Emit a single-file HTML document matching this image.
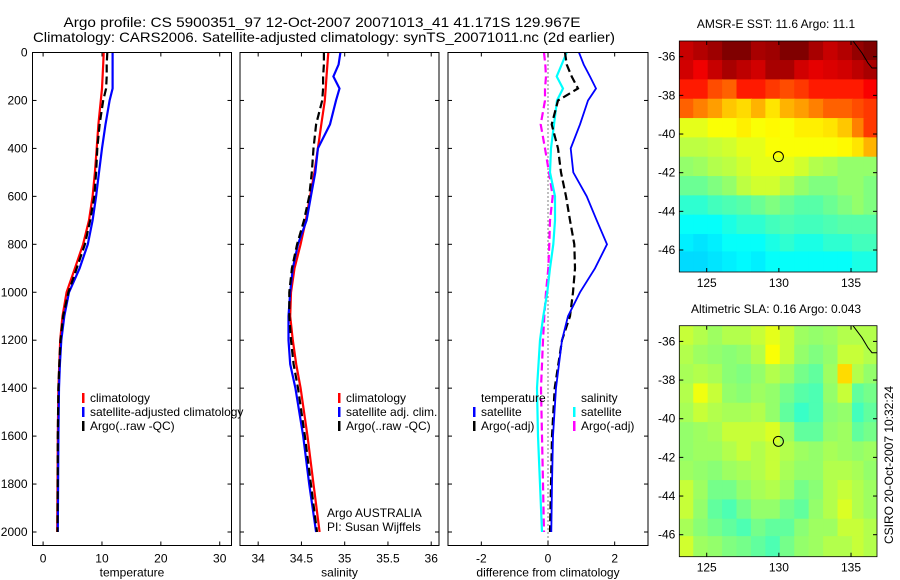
<!DOCTYPE html>
<html><head><meta charset="utf-8"><style>
body{margin:0;background:#fff;}
svg{display:block;font-family:"Liberation Sans",sans-serif;}
</style></head><body>
<svg id="fig" width="900" height="580" viewBox="0 0 900 580">
<text x="322" y="27" font-size="14" textLength="517" lengthAdjust="spacingAndGlyphs" text-anchor="middle">Argo profile: CS 5900351_97 12-Oct-2007 20071013_41 41.171S 129.967E</text>
<text x="324" y="42" font-size="14" textLength="582" lengthAdjust="spacingAndGlyphs" text-anchor="middle">Climatology: CARS2006. Satellite-adjusted climatology: synTS_20071011.nc (2d earlier)</text>
<text x="776" y="28" font-size="12" text-anchor="middle">AMSR-E SST: 11.6 Argo: 11.1</text>
<text x="776" y="313" font-size="12" text-anchor="middle">Altimetric SLA: 0.16 Argo: 0.043</text>
<text transform="translate(893,465) rotate(-90)" font-size="12" text-anchor="middle">CSIRO 20-Oct-2007 10:32:24</text>
</svg>
<script>
// ---- profile data ----
const depthTS = [0,50,100,150,200,300,400,500,600,700,800,900,1000,1100,1200,1300,1400,1600,1800,2000];
const tempClim = [10.3,10.2,10.1,10.0,9.8,9.4,9.1,8.8,8.4,7.8,6.8,5.4,4.0,3.3,2.9,2.75,2.6,2.5,2.45,2.4];
const tempSat  = [11.8,11.8,11.8,11.8,11.3,10.6,10.0,9.5,9.0,8.4,7.6,6.2,4.4,3.6,3.1,2.85,2.7,2.6,2.55,2.5];
const tempArgo = [10.9,10.8,10.8,10.7,10.2,9.6,9.2,9.0,8.7,8.0,7.1,5.7,4.3,3.4,2.95,2.75,2.6,2.5,2.48,2.45];
const salClim  = [34.81,34.80,34.79,34.78,34.77,34.73,34.69,34.65,34.60,34.55,34.49,34.42,34.38,34.37,34.40,34.44,34.49,34.57,34.64,34.71];
const salSat   = [34.95,34.93,34.87,34.94,34.90,34.83,34.69,34.66,34.61,34.56,34.46,34.40,34.37,34.35,34.35,34.37,34.43,34.52,34.59,34.67];
const salArgo  = [34.76,34.76,34.75,34.75,34.74,34.67,34.64,34.62,34.59,34.53,34.45,34.39,34.36,34.36,34.38,34.41,34.46,34.54,34.61,34.68];
const depthD = [0,50,100,150,200,300,400,500,600,700,800,900,1000,1100,1200,1400,1600,1800,2000];
const dTempSat  = [0.93,1.07,1.26,1.44,1.2,0.96,0.68,0.76,1.16,1.46,1.77,1.41,0.96,0.6,0.42,0.24,0.15,0.12,0.1];
const dTempArgo = [0.51,0.56,0.71,0.9,0.3,0.11,0.3,0.39,0.54,0.66,0.79,0.81,0.75,0.66,0.42,0.2,0.12,0.09,0.06];
const dSalSat   = [0.56,0.41,0.26,0.45,0.27,0.18,0.09,0.06,0.21,0.21,0.16,0.06,-0.02,-0.14,-0.24,-0.33,-0.3,-0.24,-0.18];
const dSalArgo  = [-0.12,-0.08,-0.06,-0.09,-0.09,-0.22,-0.09,0.03,0.14,0.06,0.04,0.01,-0.06,-0.11,-0.15,-0.21,-0.18,-0.15,-0.12];
const depthTicks = [0,200,400,600,800,1000,1200,1400,1600,1800,2000];
const tempTicks = [0,10,20,30];
const salTicks = [34,34.5,35,35.5,36];
const salTickLabels = ["34","34.5","35","35.5","36"];
const diffTicks = [-2,0,2];
// ---- map data (jet colormap fraction, rows north->south, cols west->east) ----
const mapLons = [123.6,124.6,125.6,126.6,127.6,128.6,129.6,130.6,131.6,132.6,133.6,134.6,135.6,136.4];
const mapLats = [-35.7,-36.7,-37.7,-38.7,-39.7,-40.7,-41.7,-42.7,-43.7,-44.7,-45.7,-46.6];
const sstGrid = [
[0.93,0.95,0.97,1,1,0.96,0.97,1,1,0.96,0.93,0.95,0.98,1],
[0.92,0.89,0.93,0.96,0.94,0.92,0.96,0.96,0.92,0.9,0.91,0.92,0.94,0.96],
[0.85,0.85,0.8,0.78,0.85,0.85,0.82,0.8,0.82,0.85,0.85,0.85,0.85,0.88],
[0.78,0.75,0.72,0.68,0.66,0.7,0.65,0.7,0.72,0.75,0.78,0.78,0.8,0.82],
[0.6,0.6,0.62,0.62,0.64,0.62,0.63,0.62,0.64,0.64,0.65,0.68,0.75,0.82],
[0.56,0.56,0.57,0.58,0.6,0.6,0.62,0.62,0.62,0.62,0.62,0.63,0.65,0.7],
[0.52,0.53,0.55,0.56,0.58,0.6,0.6,0.6,0.58,0.55,0.54,0.52,0.52,0.52],
[0.48,0.48,0.5,0.52,0.56,0.58,0.58,0.55,0.52,0.5,0.5,0.52,0.52,0.5],
[0.42,0.42,0.44,0.45,0.46,0.48,0.5,0.48,0.46,0.46,0.48,0.5,0.52,0.5],
[0.38,0.38,0.38,0.4,0.42,0.42,0.44,0.45,0.44,0.44,0.45,0.46,0.46,0.46],
[0.36,0.35,0.36,0.38,0.38,0.38,0.4,0.42,0.4,0.4,0.42,0.42,0.44,0.44],
[0.34,0.34,0.35,0.36,0.37,0.36,0.38,0.38,0.38,0.38,0.38,0.38,0.4,0.4]];
const slaGrid = [
[0.57,0.55,0.53,0.55,0.55,0.57,0.6,0.57,0.53,0.52,0.53,0.55,0.55,0.55],
[0.55,0.53,0.52,0.51,0.52,0.55,0.62,0.57,0.52,0.5,0.52,0.57,0.57,0.55],
[0.54,0.55,0.54,0.51,0.5,0.52,0.55,0.53,0.49,0.47,0.53,0.66,0.55,0.52],
[0.55,0.61,0.57,0.52,0.51,0.53,0.52,0.49,0.46,0.45,0.52,0.57,0.47,0.49],
[0.54,0.57,0.55,0.54,0.54,0.55,0.52,0.47,0.43,0.45,0.51,0.52,0.44,0.47],
[0.52,0.53,0.54,0.57,0.57,0.57,0.59,0.53,0.47,0.47,0.52,0.53,0.47,0.49],
[0.52,0.53,0.53,0.55,0.57,0.55,0.57,0.55,0.53,0.52,0.54,0.53,0.52,0.53],
[0.53,0.52,0.51,0.53,0.54,0.55,0.57,0.54,0.52,0.52,0.55,0.55,0.54,0.52],
[0.57,0.53,0.49,0.49,0.52,0.54,0.55,0.53,0.49,0.51,0.55,0.57,0.55,0.53],
[0.57,0.52,0.47,0.45,0.49,0.52,0.52,0.49,0.47,0.52,0.55,0.59,0.55,0.53],
[0.54,0.51,0.49,0.47,0.45,0.49,0.47,0.47,0.51,0.53,0.53,0.57,0.57,0.55],
[0.58,0.53,0.52,0.5,0.49,0.47,0.45,0.49,0.52,0.53,0.55,0.55,0.57,0.55]];
const lonTicks = [125,130,135];
const latTicks = [-36,-38,-40,-42,-44,-46];
const argoLon = 129.967, argoLat = -41.171;

const NS = "http://www.w3.org/2000/svg";
const svg = document.getElementById('fig');
function mk(tag, attrs, parent){const e=document.createElementNS(NS,tag);for(const k in attrs)e.setAttribute(k,attrs[k]);(parent||svg).appendChild(e);return e;}
function lin(d0,d1,r0,r1){return v=>r0+(v-d0)*(r1-r0)/(d1-d0);}

function profilePanel(id, box, xlim, xticks, xlabels, xtitle, showY){
  const g = mk('g',{});
  
  
  const x = lin(xlim[0],xlim[1],box.l,box.r);
  const y = lin(0,2000,52.5,532);
  const cp = mk('clipPath',{id:'clip-'+id},g);
  mk('rect',{x:box.l,y:box.t,width:box.r-box.l,height:box.b-box.t},cp);
  const plot = mk('g',{'clip-path':'url(#clip-'+id+')'},g);
  xticks.forEach((t,i)=>{
    mk('line',{x1:x(t),x2:x(t),y1:box.b,y2:box.b-4,stroke:'#000'},g);
    mk('line',{x1:x(t),x2:x(t),y1:box.t,y2:box.t+4,stroke:'#000'},g);
    const tx = mk('text',{x:x(t),y:box.b+17,'font-size':12,'text-anchor':'middle'},g);
    tx.textContent = xlabels[i];
    
    
  });
  depthTicks.forEach(t=>{
    mk('line',{x1:box.l,x2:box.l+4,y1:y(t),y2:y(t),stroke:'#000'},g);
    mk('line',{x1:box.r,x2:box.r-4,y1:y(t),y2:y(t),stroke:'#000'},g);
    if(showY){
      const tx = mk('text',{x:box.l-5,y:y(t)+4,'font-size':12,'text-anchor':'end'},g);
      tx.textContent = t;
      
      
    }
  });
  const tt = mk('text',{x:(box.l+box.r)/2,y:box.b+31,'font-size':12,'text-anchor':'middle'},g);
  tt.textContent = xtitle;
  
  
  mk('rect',{x:box.l,y:box.t,width:box.r-box.l,height:box.b-box.t,fill:'none',stroke:'#000'},g);
  return {x,y,plot,g};
}
function series(ax, depths, vals, color, dash, name, w){
  const pts = vals.map((v,i)=>ax.x(v).toFixed(1)+','+ax.y(depths[i]).toFixed(1)).join(' ');
  const p = mk('polyline',{points:pts,fill:'none',stroke:color,'stroke-width':w||2.2,'stroke-dasharray':dash||'none'},ax.plot);
  
  
}
function legendEntry(x,y,color,label,name){
  mk('rect',{x:x-1,y:y-5,width:2.5,height:10,fill:color});
  const t = mk('text',{x:x+7,y:y+4,'font-size':12});
  t.textContent = label;
  
  
}

const ax1 = profilePanel('temperature',{l:32.5,r:231.5,t:52.5,b:545.5},[-1.8,32],tempTicks,tempTicks.map(String),'temperature',true);
series(ax1,depthTS,tempClim,'#ff0000',null,'temp-climatology-line');
series(ax1,depthTS,tempSat,'#0000ff',null,'temp-satellite-line');
series(ax1,depthTS,tempArgo,'#000000','8,4','temp-argo-line');
const ax2 = profilePanel('salinity',{l:240,r:439,t:52.5,b:545.5},[33.79,36.09],salTicks,salTickLabels,'salinity',false);
series(ax2,depthTS,salClim,'#ff0000',null,'sal-climatology-line');
series(ax2,depthTS,salSat,'#0000ff',null,'sal-satellite-line');
series(ax2,depthTS,salArgo,'#000000','8,4','sal-argo-line');
const ax3 = profilePanel('difference',{l:448,r:648,t:52.5,b:545.5},[-3,3],diffTicks,diffTicks.map(String),'difference from climatology',false);
mk('line',{x1:ax3.x(0),x2:ax3.x(0),y1:52.5,y2:545.5,stroke:'#000','stroke-dasharray':'1,3'},ax3.plot);
series(ax3,depthD,dSalArgo,'#ff00ff','8,4','diff-sal-argo-line');
series(ax3,depthD,dSalSat,'#00ffff',null,'diff-sal-satellite-line');
series(ax3,depthD,dTempArgo,'#000000','8,4','diff-temp-argo-line');
series(ax3,depthD,dTempSat,'#0000ff',null,'diff-temp-satellite-line',1.8);

legendEntry(83,398,'#ff0000','climatology','legend-climatology');
legendEntry(83,412,'#0000ff','satellite-adjusted climatology','legend-satellite-adjusted');
legendEntry(83,426,'#000000','Argo(..raw -QC)','legend-argo');
legendEntry(339,398,'#ff0000','climatology','legend2-climatology');
legendEntry(339,412,'#0000ff','satellite adj. clim.','legend2-satellite');
legendEntry(339,426,'#000000','Argo(..raw -QC)','legend2-argo');
{const t=mk('text',{x:481,y:402,'font-size':12});t.textContent='temperature';

}
legendEntry(474,412,'#0000ff','satellite','legend3-temp-satellite');
legendEntry(474,426,'#000000','Argo(-adj)','legend3-temp-argo');
{const t=mk('text',{x:581,y:402,'font-size':12});t.textContent='salinity';

}
legendEntry(574,412,'#00ffff','satellite','legend3-sal-satellite');
legendEntry(574,426,'#ff00ff','Argo(-adj)','legend3-sal-argo');
{const a=mk('text',{x:327,y:517,'font-size':12});a.textContent='Argo AUSTRALIA';


const b=mk('text',{x:327,y:531,'font-size':12});b.textContent='PI: Susan Wijffels';

}

function jet(v){
  v=Math.max(0,Math.min(1,v));
  const f=t=>Math.round(255*Math.max(0,Math.min(1,1.5-Math.abs(4*v-t))));
  return 'rgb('+f(3)+','+f(2)+','+f(1)+')';
}
function mapPanel(id, top, grid){
  const l=679.3,r=877,b=top+231;
  const x = lin(123.1,136.8,l,r);
  const y = lin(-36,-46,top+15.7,top+209);
  const g = mk('g',{});
  
  
  const cp = mk('clipPath',{id:'clip-'+id},g);
  mk('rect',{x:l,y:top,width:r-l,height:b-top},cp);
  const cells = mk('g',{'clip-path':'url(#clip-'+id+')'},g);
  const dLon=1.0, dLat=1.0;
  grid.forEach((row,i)=>row.forEach((v,j)=>{
    const x0=x(mapLons[j]-dLon/2)-0.5, x1=x(mapLons[j]+dLon/2)+0.5;
    const y0=y(mapLats[i]+dLat/2)-0.5, y1=y(mapLats[i]-dLat/2)+0.5;
    const c = mk('rect',{x:x0,y:y0,width:x1-x0,height:y1-y0,fill:jet(v)},cells);
    
    
  }));
  mk('polyline',{points:[[853,top],[862,top+12],[868,top+22],[872,top+27],[877,top+27]].map(p=>p.join(',')).join(' '),fill:'none',stroke:'#000','stroke-width':1},cells);
  const circ = mk('circle',{cx:x(argoLon),cy:y(argoLat),r:5,fill:'none',stroke:'#000','stroke-width':1},g);
  
  
  lonTicks.forEach(t=>{
    mk('line',{x1:x(t),x2:x(t),y1:b,y2:b-4,stroke:'#000'},g);
    mk('line',{x1:x(t),x2:x(t),y1:top,y2:top+4,stroke:'#000'},g);
    const tx = mk('text',{x:x(t),y:b+15,'font-size':12,'text-anchor':'middle'},g);
    tx.textContent = t;
    
    
  });
  latTicks.forEach(t=>{
    mk('line',{x1:l,x2:l+4,y1:y(t),y2:y(t),stroke:'#000'},g);
    mk('line',{x1:r,x2:r-4,y1:y(t),y2:y(t),stroke:'#000'},g);
    const tx = mk('text',{x:l-4,y:y(t)+4,'font-size':12,'text-anchor':'end'},g);
    tx.textContent = t;
    
    
  });
  mk('rect',{x:l,y:top,width:r-l,height:b-top,fill:'none',stroke:'#000','stroke-width':0.8},g);
}
mapPanel('sst',41,sstGrid);
mapPanel('sla',325.7,slaGrid);
</script>
</body></html>
